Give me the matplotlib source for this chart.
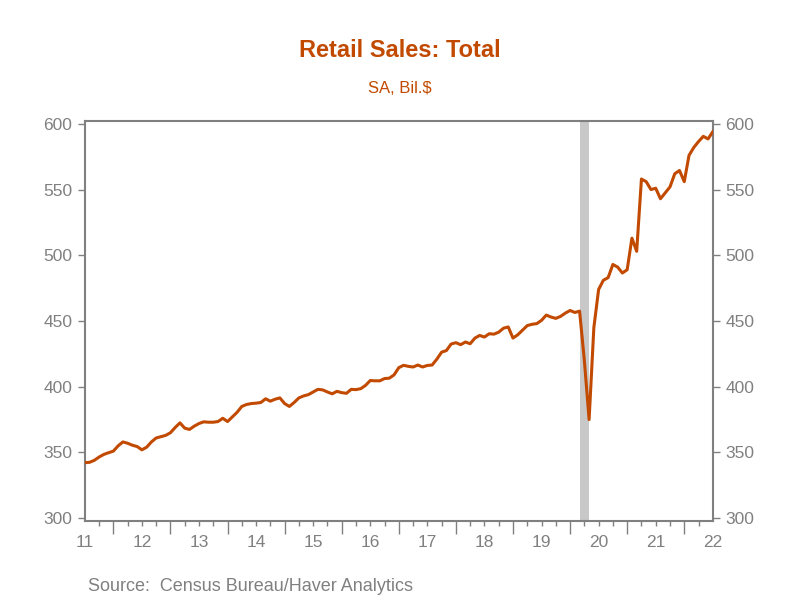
import matplotlib
matplotlib.use("Agg")
import matplotlib.pyplot as plt
import numpy as np
import pandas as pd

plt.rcParams['font.family'] = ['Liberation Sans', 'DejaVu Sans']

# monthly retail sales, SA, Bil.$  (Jun 2011 .. Jun 2022)
start_month = '2011-06'
end_month = '2022-06'
sales = [
    342.2, 342.5, 344.0, 346.5, 348.5, 349.8, 351.0, 355.0, 358.0, 357.0,
    355.5, 354.5, 352.0, 354.0, 358.0, 361.0, 362.0, 363.0, 365.0, 369.0,
    372.5, 368.5, 367.5, 370.0, 372.0, 373.3, 373.0, 373.0, 373.5, 376.0,
    373.5, 377.0, 380.5, 385.0, 386.5, 387.2, 387.5, 388.0, 390.8, 389.0,
    390.5, 391.5, 387.2, 385.0, 388.0, 391.5, 393.0, 394.0, 396.0, 398.0,
    397.6, 396.0, 394.6, 396.5, 395.5, 395.0, 398.0, 397.8, 398.5, 401.0,
    404.7, 404.5, 404.5, 406.2, 406.5, 409.0, 414.5, 416.3, 415.5, 415.0,
    416.5, 415.0, 416.2, 416.5, 421.0, 426.3, 427.5, 432.5, 433.5, 432.0,
    434.0, 432.7, 437.0, 439.0, 437.8, 440.3, 440.0, 441.5, 444.5, 445.5,
    437.0, 439.5, 443.0, 446.5, 447.5, 448.0, 450.5, 454.5, 453.0, 452.0,
    453.5, 456.0, 458.0, 456.5, 457.5, 420.0, 375.0, 445.0, 474.0, 481.0,
    483.0, 493.0, 491.0, 486.5, 489.0, 513.0, 503.0, 558.0, 556.0, 550.0,
    551.0, 543.0, 547.5, 552.0, 562.0, 564.5, 556.0, 576.0, 582.0, 586.5,
    590.5, 588.5, 594.0,
]
recession = ('2020-02', '2020-04')
year_labels = [str(y)[-2:] for y in range(2011, 2023)]

months = pd.period_range(start_month, end_month, freq='M')
x = months.year + months.month / 12.0

def to_x(p):
    p = pd.Period(p, freq='M')
    return p.year + p.month / 12.0

orange = '#C24A00'
grey = '#808080'

fig = plt.figure(figsize=(8, 6), dpi=100)
ax = fig.add_axes([0.106, 0.132, 0.785, 0.666])

ax.axvspan(to_x(recession[0]), to_x(recession[1]), color='#C8C8C8', lw=0, zorder=1)
ax.plot(x, sales, color=orange, lw=2.2, zorder=3)

ax.set_xlim(x[0], x[-1])
ax.set_ylim(298, 602)

ax.set_yticks(np.arange(300, 601, 50))
ax.tick_params(axis='y', which='both', direction='out', length=5, width=1,
               color=grey, labelcolor=grey, labelsize=12.5,
               left=True, right=True, labelleft=True, labelright=True, pad=4)

# tall ticks at year boundaries, short ticks at quarters, labels mid-year
ax.set_xticks(np.arange(2012, 2023, 1.0))
ax.set_xticklabels([])
ax.set_xticks(np.arange(2011.75, 2022.5, 0.25), minor=True)
ax.tick_params(axis='x', which='major', direction='out', length=9, width=1, color=grey)
ax.tick_params(axis='x', which='minor', direction='out', length=3.5, width=1, color=grey)
for yr, lab in zip(range(2011, 2023), year_labels):
    ax.text(yr + 0.5, -0.036, lab, transform=ax.get_xaxis_transform(),
            ha='center', va='top', color=grey, fontsize=12.5, clip_on=False)

for s in ax.spines.values():
    s.set_color(grey)
    s.set_linewidth(1.5)

fig.text(0.5, 0.916, 'Retail Sales: Total', ha='center', va='center',
         color=orange, fontsize=17, fontweight='bold')
fig.text(0.5, 0.853, 'SA, Bil.$', ha='center', va='center',
         color=orange, fontsize=12)
fig.text(0.11, 0.022, 'Source:  Census Bureau/Haver Analytics', ha='left',
         va='center', color=grey, fontsize=13)

fig.savefig('out.png', dpi=100)
